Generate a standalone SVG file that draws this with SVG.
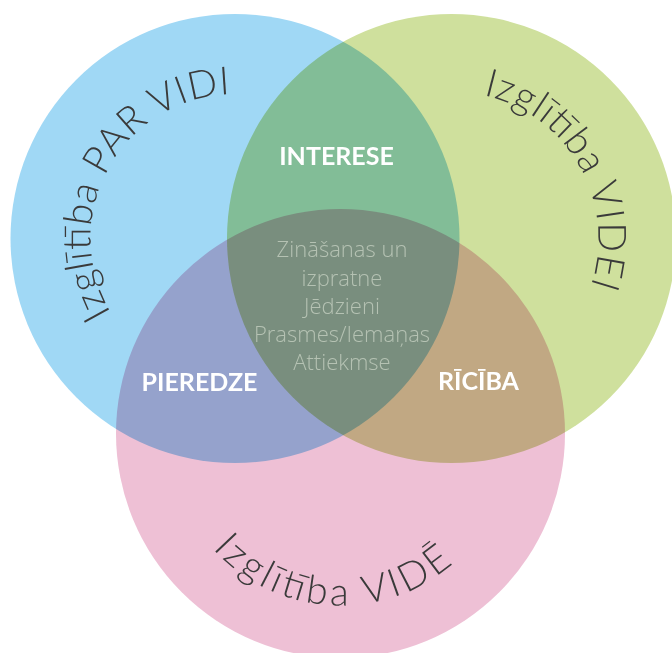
<svg xmlns="http://www.w3.org/2000/svg" xmlns:xlink="http://www.w3.org/1999/xlink" width="672" height="653" viewBox="0 0 672 653">
  <style>
    .c { mix-blend-mode: multiply; }
    .arc { font-family: "Lato", "Open Sans", "DejaVu Sans", sans-serif; font-weight: 300; font-size: 39px; fill: #3a3a3a; }
    .lbl { font-family: "Lato", "Open Sans", "Liberation Sans", sans-serif; font-weight: 700; font-size: 25px; fill: #ffffff; text-anchor: middle; }
    .core { font-family: "Open Sans", "Lato", "Liberation Sans", sans-serif; font-weight: 300; font-size: 22px; fill: #b5c2b3; text-anchor: middle; }
  </style>
  <defs>
    <path id="pBlue" d="M 111.1 312.9 A 144.5 144.5 0 0 1 247.6 94.6" fill="none"/>
    <path id="pGreen" d="M 483.3 95.0 A 147 147 0 0 1 578.8 312.0" fill="none"/>
    <path id="pPink" d="M 212.7 548.6 A 172 172 0 0 0 472.3 544.1" fill="none"/>
  </defs>
  <rect width="672" height="653" fill="#ffffff"/>
  <g id="circles">
    <g id="node-par-vidi">
      <circle class="c" cx="235" cy="238.5" r="224.5" fill="#a0d8f5"/>
    </g>
    <g id="node-videi">
      <circle class="c" cx="451.5" cy="238.5" r="224.5" fill="#cfe09d"/>
    </g>
    <g id="node-vide">
      <circle class="c" cx="340.5" cy="433.5" r="224.5" fill="#eec0d5"/>
    </g>
  </g>
  <g id="connectors"/>
  <g id="labels-arc">
    <text class="arc"><textPath xlink:href="#pBlue" href="#pBlue" textLength="300" lengthAdjust="spacing">Izglītība PAR VIDI</textPath></text>
    <text class="arc"><textPath xlink:href="#pGreen" href="#pGreen" textLength="247" lengthAdjust="spacing">Izglītība VIDEI</textPath></text>
    <text class="arc"><textPath xlink:href="#pPink" href="#pPink" textLength="267" lengthAdjust="spacing">Izglītība VIDĒ</textPath></text>
  </g>
  <g id="node-interese"><text class="lbl" x="336.5" y="165">INTERESE</text></g>
  <g id="node-pieredze"><text class="lbl" x="199.5" y="391">PIEREDZE</text></g>
  <g id="node-riciba"><text class="lbl" x="478.5" y="390">RĪCĪBA</text></g>
  <g id="node-core">
    <text class="core" x="342" y="257">Zināšanas un</text>
    <text class="core" x="342" y="285.5">izpratne</text>
    <text class="core" x="342" y="313.5">Jēdzieni</text>
    <text class="core" x="342" y="342">Prasmes/Iemaņas</text>
    <text class="core" x="342" y="370">Attiekmse</text>
  </g>
</svg>
